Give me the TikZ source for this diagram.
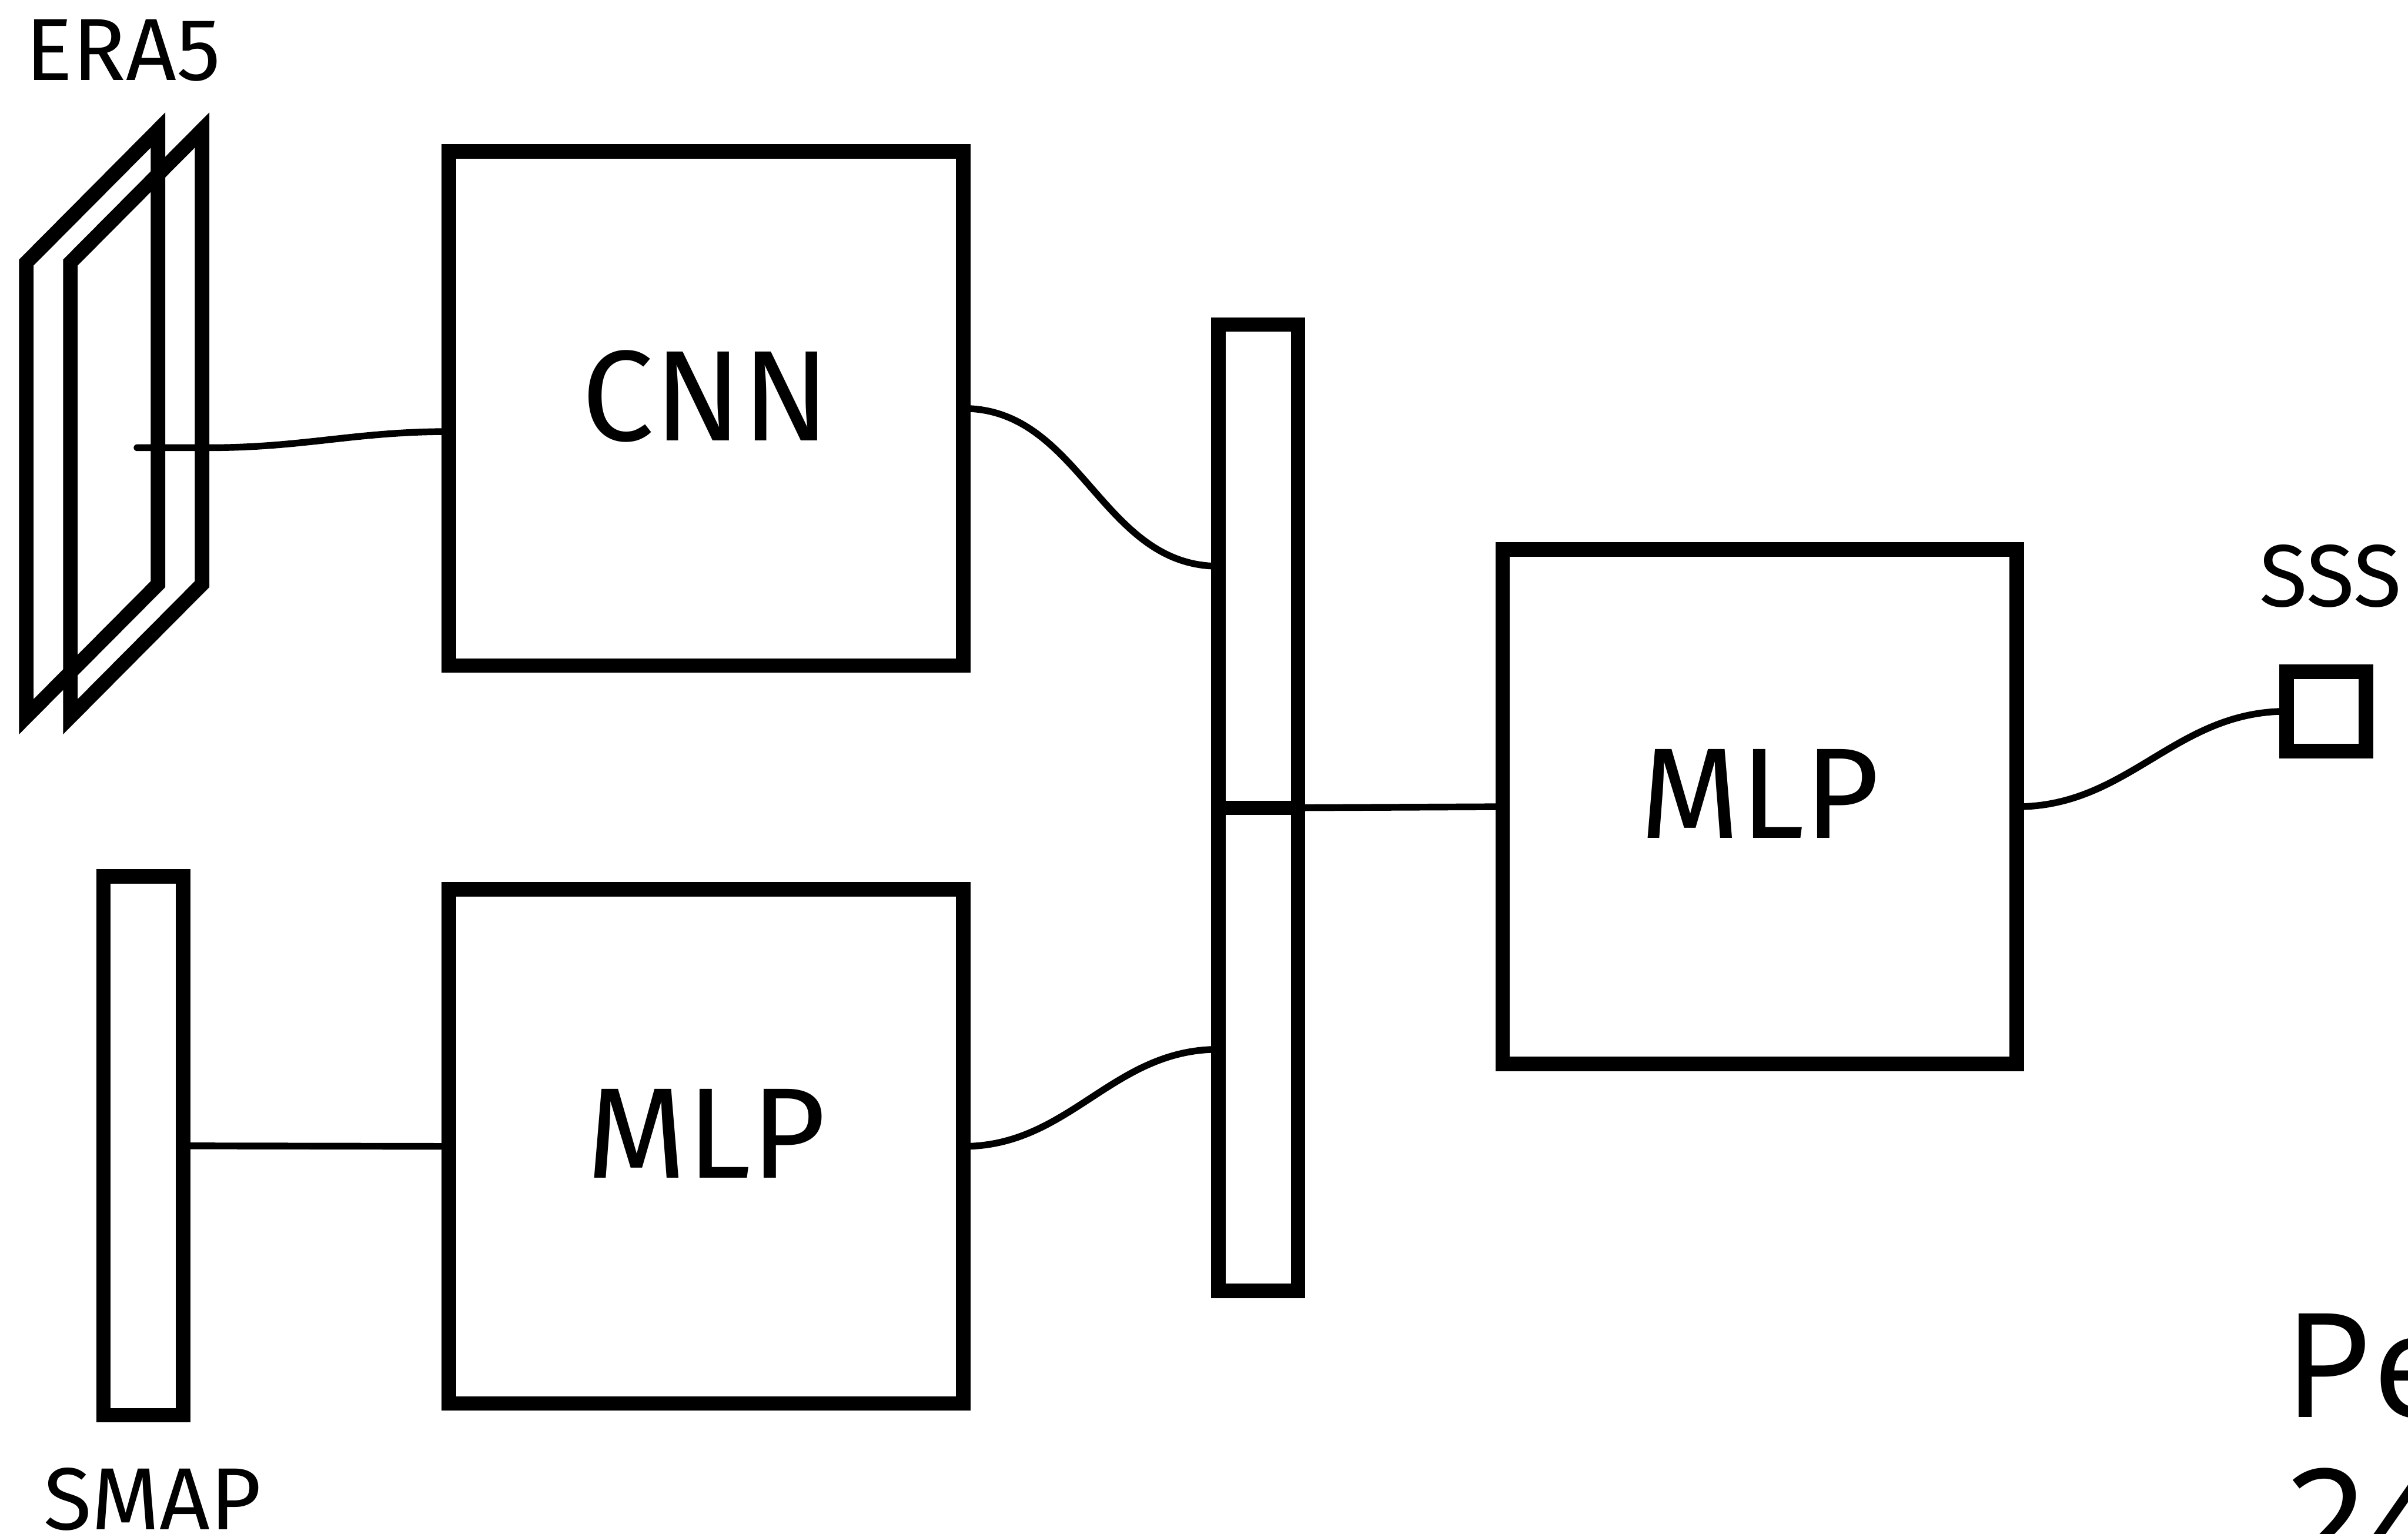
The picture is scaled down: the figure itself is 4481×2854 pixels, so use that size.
\documentclass[tikz,border=0pt]{standalone}
\usepackage{fontspec}
\setmainfont{Fira Sans}
\newfontfamily\notosans{Noto Sans}
\usetikzlibrary{positioning}
\tikzset{
    block/.style={rectangle, draw, line width=2.7pt, minimum width=95.7pt, minimum height=95.7pt,
        inner sep=0pt, outer sep=0pt, text depth=4.8pt, font=\fontsize{24}{29}\selectfont},
    bar/.style={rectangle, draw, line width=2.7pt, minimum width=14.8pt, inner sep=0pt, outer sep=0pt},
    sheet/.style={line width=2.7pt},
    link/.style={line width=1.25pt, line cap=round},
    tag/.style={inner sep=0pt, anchor=base, font=\fontsize{16.4}{19}\selectfont},
    bigtag/.style={inner sep=0pt, anchor=base west, font=\notosans\fontsize{27}{32}\selectfont},
}
\begin{document}
\begin{tikzpicture}[x=0.1pt, y=-0.1pt]
    \useasboundingbox (0,0) rectangle (4481,2854);
    \clip (0,0) rectangle (4481,2854);
    % input grids
    \foreach \dx in {0,82}
        \draw[sheet] (49+\dx,488.5) -- ++(245,-246.5) -- ++(0,845) -- ++(-245,246.5) -- cycle;
    \node[tag] (eralbl) at (229,149) {ERA5};
    \node[bar, minimum height=100.25pt] (smap) at (266.5,2132) {};
    \node[tag] (smaplbl) at (284,2846) {SMAP};
    % branches
    \node[block] (cnn) at (1314,760) {CNN};
    \node[block] (mlpa) at (1314,2133) {MLP};
    % concatenation
    \node[bar, minimum height=89.9pt] (ctop) at (2341.5,1053.5) {};
    \node[bar, minimum height=89.9pt, below=0pt of ctop] (cbot) {};
    \node[block] (mlpb) at (3274.5,1501) {MLP};
    % output
    \node[bar, minimum height=14.8pt] (sss) at (4329,1323.5) {};
    \node[tag] (ssslbl) at (4337,1128) {SSS};
    \node[bigtag] (perlbl) at (4250,2637) {Pe};
    \node[bigtag] (perlbl2) at (4250,2927) {24};
    \coordinate (erain) at (255,833);
    \draw[link] (erain) -- ++(135,0) to[out=0, in=180] ([yshift=-4.3pt]cnn.west);
    \draw[link] (smap.east) -- (mlpa.west);
    \draw[link] (cnn.east) to[out=0, in=180] (ctop.west);
    \draw[link] (mlpa.east) to[out=0, in=180] (cbot.west);
    \draw[link] (ctop.south east) -- (mlpb.west);
    \draw[link] (mlpb.east) to[out=0, in=180] (sss.west);
\end{tikzpicture}
\end{document}
